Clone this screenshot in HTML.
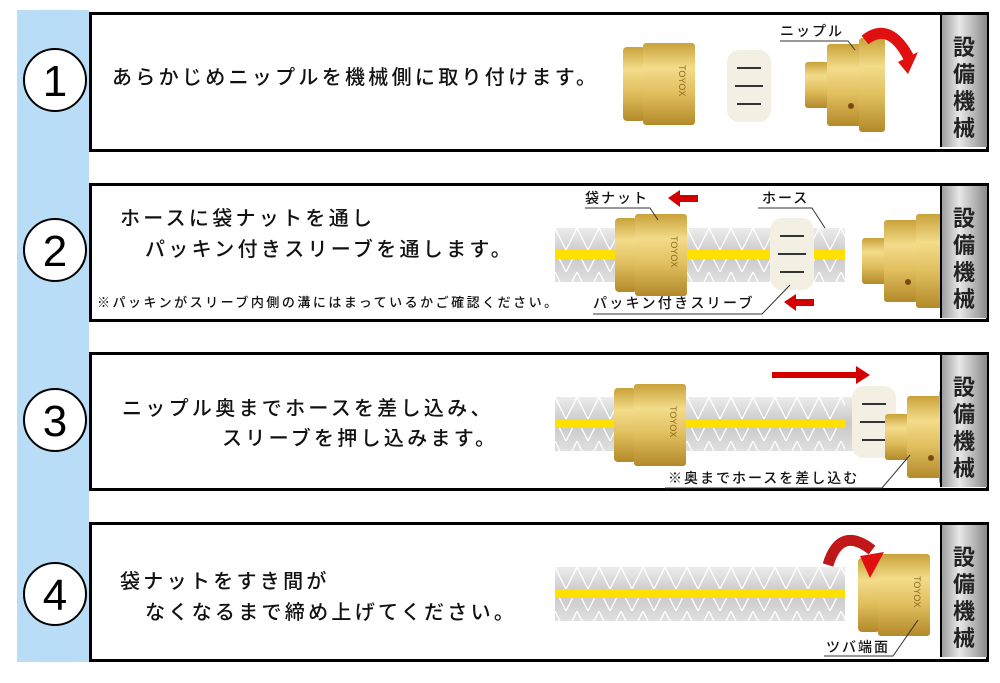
<!DOCTYPE html>
<html><head><meta charset="utf-8"><style>
body{margin:0;background:#fff;width:1000px;height:678px;overflow:hidden}
svg text{font-family:"Liberation Sans","Noto Sans CJK JP",sans-serif}
</style></head><body>
<svg width="1000" height="678" viewBox="0 0 1000 678" xmlns="http://www.w3.org/2000/svg">
<defs>
<clipPath id="cl"><rect x="0" y="0" width="941" height="678"/></clipPath>
<linearGradient id="br" x1="0" y1="0" x2="0" y2="1">
<stop offset="0" stop-color="#c9a23a"/><stop offset="0.3" stop-color="#f3dc8a"/><stop offset="0.6" stop-color="#e2c060"/><stop offset="1" stop-color="#b38a2a"/></linearGradient>
<linearGradient id="gr" x1="0" y1="0" x2="1" y2="0">
<stop offset="0" stop-color="#9a9a9a"/><stop offset="0.4" stop-color="#e8e8e8"/><stop offset="1" stop-color="#8a8a8a"/></linearGradient>
<linearGradient id="hs" x1="0" y1="0" x2="0" y2="1">
<stop offset="0" stop-color="#ececec"/><stop offset="0.5" stop-color="#c8c8c8"/><stop offset="1" stop-color="#e0e0e0"/></linearGradient>
<pattern id="zz" width="22" height="22" patternUnits="userSpaceOnUse"><path d="M0 0L11 22L22 0" fill="none" stroke="#fff" stroke-width="1.3"/></pattern>
<g id="col"><rect x="0" y="0" width="46" height="132" fill="url(#gr)"/><line x1="0" y1="0" x2="0" y2="132" stroke="#000" stroke-width="2"/>
<g font-size="22" font-weight="bold" text-anchor="middle" fill="#222"><text x="23" y="40">設</text><text x="23" y="67">備</text><text x="23" y="94">機</text><text x="23" y="121">械</text></g></g>
<g id="nut"><rect x="0" y="4" width="22" height="74" rx="4" fill="url(#br)"/><rect x="20" y="0" width="52" height="82" rx="3" fill="url(#br)"/><text x="56" y="22" font-size="9" fill="#8a6a20" transform="rotate(90 56 22)">TOYOX</text></g>
<g id="sleeve"><rect x="0" y="0" width="44" height="72" rx="12" fill="#f3efe3"/><g stroke="#333" stroke-width="2"><line x1="10" y1="18" x2="34" y2="18"/><line x1="8" y1="36" x2="36" y2="36"/><line x1="10" y1="54" x2="34" y2="54"/></g></g>
<g id="hose"><rect x="0" y="0" width="290" height="54" fill="url(#hs)"/><rect x="0" y="0" width="290" height="22" fill="url(#zz)"/><rect x="0" y="31" width="290" height="23" fill="url(#zz)"/><rect x="0" y="22" width="290" height="9" fill="#ffe000"/></g>
<g id="nip"><rect x="0" y="18" width="24" height="46" rx="3" fill="url(#br)"/><rect x="22" y="0" width="34" height="82" rx="3" fill="url(#br)"/><rect x="54" y="-6" width="26" height="94" rx="3" fill="url(#br)"/><circle cx="46" cy="62" r="3" fill="#7a4a10"/></g>
</defs>
<rect x="17" y="10" width="72" height="652" fill="#b9ddf7"/>
<g fill="#fff" stroke="#000" stroke-width="3">
<rect x="90.5" y="13.5" width="897" height="137"/>
<rect x="90.5" y="184.5" width="897" height="136"/>
<rect x="90.5" y="353.5" width="897" height="136"/>
<rect x="90.5" y="523.5" width="897" height="137"/>
</g>
<g fill="#fff" stroke="#000" stroke-width="2">
<circle cx="55" cy="80" r="31"/><circle cx="55" cy="250" r="31"/><circle cx="55" cy="420" r="31"/><circle cx="55" cy="594" r="31"/></g>
<g font-size="44" text-anchor="middle" fill="#000"><text x="55" y="96">1</text><text x="55" y="266">2</text><text x="55" y="436">3</text><text x="55" y="610">4</text></g>
<g font-size="20" fill="#111" letter-spacing="3.3" font-weight="500">
<text x="112" y="84">あらかじめニップルを機械側に取り付けます。</text>
<text x="120" y="225">ホースに袋ナットを通し</text>
<text x="145" y="256">パッキン付きスリーブを通します。</text>
<text x="122" y="415">ニップル奥までホースを差し込み、</text>
<text x="222" y="445">スリーブを押し込みます。</text>
<text x="120" y="588">袋ナットをすき間が</text>
<text x="145" y="619">なくなるまで締め上げてください。</text>
</g>
<text x="97" y="307" font-size="13" fill="#111" letter-spacing="2.5" font-weight="500">※パッキンがスリーブ内側の溝にはまっているかご確認ください。</text>
<g clip-path="url(#cl)">
<use href="#nut" x="623" y="43"/>
<use href="#sleeve" x="727" y="50"/>
<use href="#nip" x="805" y="44"/>
<use href="#hose" x="555" y="228"/>
<use href="#nut" x="615" y="214"/>
<use href="#sleeve" x="770" y="218"/>
<use href="#nip" x="862" y="220"/>
<use href="#hose" x="555" y="397"/>
<rect x="845" y="397" width="40" height="54" fill="url(#hs)"/>
<use href="#nut" x="614" y="384"/>
<use href="#sleeve" x="852" y="386"/>
<use href="#nip" x="885" y="396"/>
<use href="#hose" x="555" y="567"/>
<use href="#nut" x="858" y="554"/>
</g>
<use href="#col" x="941" y="15"/><use href="#col" x="941" y="186"/><use href="#col" x="941" y="355"/><use href="#col" x="941" y="525"/>
<path d="M865 40 Q890 20 910 60" fill="none" stroke="#e01010" stroke-width="11"/><path d="M898 62 L918 52 L908 74Z" fill="#e01010"/>
<g font-size="14" fill="#111" font-weight="500">
<text x="780" y="36" letter-spacing="2">ニップル</text>
<text x="585" y="203" letter-spacing="2">袋ナット</text>
<text x="762" y="203" letter-spacing="2">ホース</text>
<text x="593" y="308" letter-spacing="2.3">パッキン付きスリーブ</text>
<text x="668" y="483" letter-spacing="2">※奥までホースを差し込む</text>
<text x="826" y="652" letter-spacing="2">ツバ端面</text>
</g>
<g fill="none" stroke="#333">
<path d="M780 41 H848 L855 50"/><path d="M585 208 H650 L658 220"/><path d="M758 208 H812 L825 228"/>
<path d="M593 314 H762 L790 285"/><path d="M665 488 H882 L910 455"/><path d="M824 656 H893 L918 620"/>
</g>
<path d="M668 198 L680 190 V195 H698 V202 H680 V207Z" fill="#d40000"/>
<path d="M784 302 L796 294 V299 H814 V306 H796 V311Z" fill="#d40000"/>
<path d="M772 372 H856 V366 L870 375 L856 384 V378 H772Z" fill="#d40000"/>
<path d="M828 565 Q840 525 872 550" fill="none" stroke="#c01818" stroke-width="11"/><path d="M860 556 L884 552 L870 578Z" fill="#e01010"/>
</svg>
</body></html>
